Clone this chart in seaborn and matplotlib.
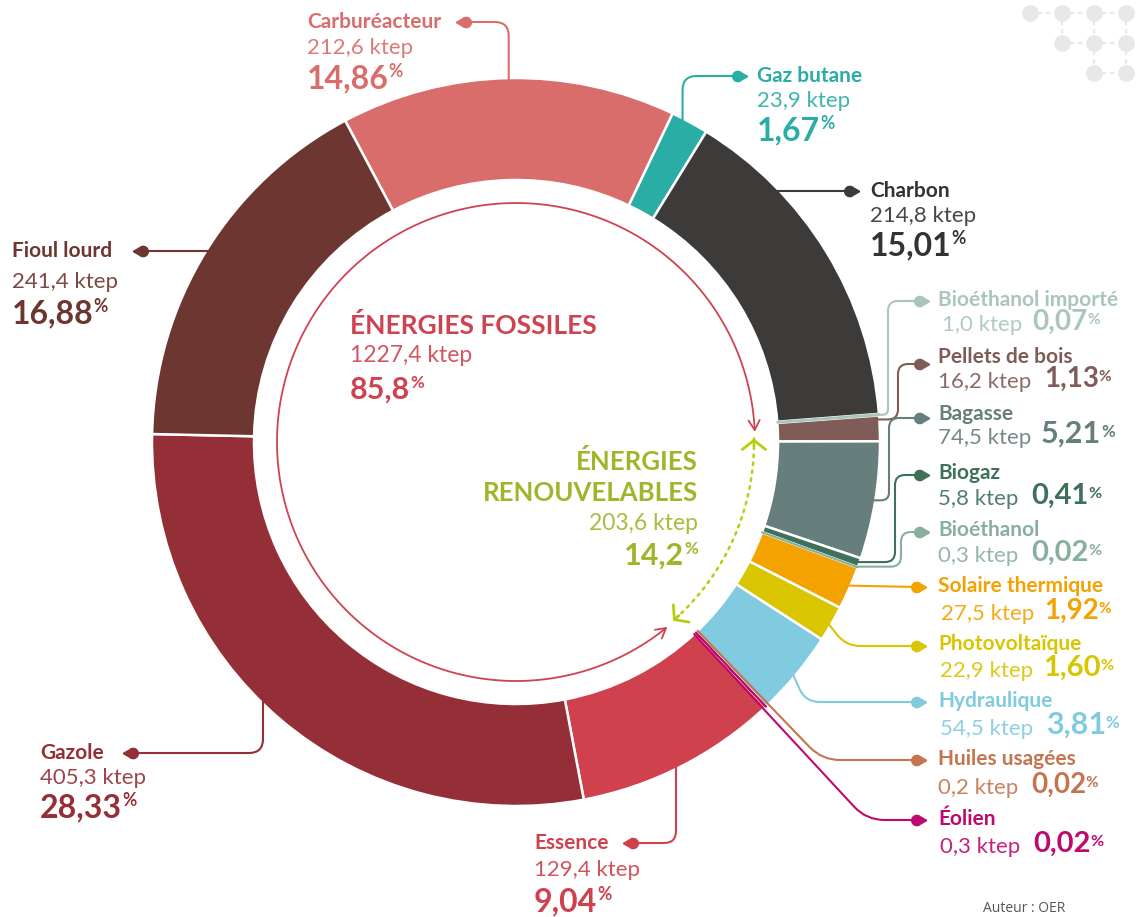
import numpy as np
import matplotlib
matplotlib.use("Agg")
import matplotlib.pyplot as plt
import seaborn as sns
from matplotlib.path import Path
from matplotlib.patches import PathPatch, FancyArrowPatch

# data (ktep), in clockwise order from the top
names = ["Carburéacteur", "Gaz butane", "Charbon", "Bioéthanol importé", "Pellets de bois",
         "Bagasse", "Biogaz", "Bioéthanol", "Solaire thermique", "Photovoltaïque",
         "Hydraulique", "Huiles usagées", "Éolien", "Essence", "Gazole", "Fioul lourd"]
ktep = [212.6, 23.9, 214.8, 1.0, 16.2, 74.5, 5.8, 0.3, 27.5, 22.9, 54.5, 0.2, 0.3,
        129.4, 405.3, 241.4]
shares = [14.86, 1.67, 15.01, 0.07, 1.13, 5.21, 0.41, 0.02, 1.92, 1.60, 3.81, 0.02, 0.02,
          9.04, 28.33, 16.88]
colors = ["#D96D6B", "#2AADA5", "#3C3B39", "#A9C6B9", "#7F5C58", "#667F7C", "#3F705A",
          "#89AF9E", "#F3A200", "#D9C500", "#80CBE0", "#C57450", "#BE0A6E", "#CE414D",
          "#952F37", "#6D3630"]
fossil_total, fossil_share = 1227.4, 85.8
renew_total, renew_share = 203.6, 14.2

RED = "#CF4350"
GREEN_TXT = "#9DB72A"
GREEN_ARR = "#B7CE10"

sns.set_theme(style="white")
plt.rcParams["font.family"] = ["Lato", "DejaVu Sans"]

W, H = 1139, 917
fig = plt.figure(figsize=(W / 100, H / 100), dpi=100)
ax = fig.add_axes([0, 0, 1, 1])

CX, CY, R, RING = 516, 442, 364, 102

wedges, _ = ax.pie(ktep, colors=colors, radius=R, center=(CX, CY), startangle=-118,
                   counterclock=True,
                   wedgeprops=dict(width=RING, edgecolor="white", linewidth=1.8))
for w, s, c in zip(wedges, shares, colors):
    if s < 0.1:  # tiny slices shown as thin lines
        w.set_edgecolor(c)
        w.set_linewidth(1.1)
        w.set_zorder(3)

ax.set_xlim(0, W)
ax.set_ylim(H, 0)
ax.set_aspect("equal")
ax.axis("off")

ang = {n: (w.theta1 + 90, w.theta2 + 90) for n, w in zip(names, wedges)}


def am(n, f=0.5):
    a1, a2 = ang[n]
    return a1 + f * (a2 - a1)


def ring_pt(a, r):
    a = np.radians(a)
    return (CX + r * np.sin(a), CY - r * np.cos(a))


def rounded(pts, rad=10):
    pts = [np.array(p, float) for p in pts]
    verts, codes = [pts[0]], [Path.MOVETO]
    for i in range(1, len(pts) - 1):
        p0, p1, p2 = pts[i - 1], pts[i], pts[i + 1]
        d1, d2 = p0 - p1, p2 - p1
        l1, l2 = np.hypot(*d1), np.hypot(*d2)
        rr = min(rad, l1 / 2, l2 / 2)
        verts += [p1 + d1 / l1 * rr, p1, p1 + d2 / l2 * rr]
        codes += [Path.LINETO, Path.CURVE3, Path.CURVE3]
    verts.append(pts[-1])
    codes.append(Path.LINETO)
    return Path(verts, codes)


def leaf(right=True):
    t = np.radians(np.linspace(45, 315, 16))
    v = [(1.0, 0.0)] + [(-0.2 + 0.62 * np.cos(a), 0.62 * np.sin(a)) for a in t] + [(1.0, 0.0)]
    if not right:
        v = [(-x, y) for x, y in v]
    return v


def leader(pts, color, rad=10, right=True):
    ax.add_patch(PathPatch(rounded(pts, rad), fill=False, ec=color, lw=1.5,
                           capstyle="round", zorder=4))
    ax.plot(*pts[-1], marker=leaf(right), ms=12, color=color, mec=color, zorder=5)


def fmt(v, d):
    return f"{v:.{d}f}".replace(".", ",")


def pct_after(artist, color, size, dy=0):
    # superscript percent sign glued to the number
    return ax.annotate("%", xy=(1, 1), xycoords=artist, xytext=(0, dy),
                       textcoords="offset points", ha="left", va="top",
                       fontsize=size * 0.55, fontweight="bold", color=color)


NAME_FS, VAL_FS = 15, 16


def fossil_label(n, x, y, dy1=26, dy2=57):
    i = names.index(n)
    c = "#333333" if n == "Charbon" else colors[i]
    ax.text(x, y, n, fontsize=NAME_FS, fontweight="bold", color=c, va="center")
    ax.text(x, y + dy1, fmt(ktep[i], 1) + " ktep", fontsize=VAL_FS, color=c,
            va="center", alpha=0.9)
    t = ax.text(x, y + dy2, fmt(shares[i], 2), fontsize=23, fontweight="bold", color=c,
                va="center")
    pct_after(t, c, 23, 1)


def renew_label(n, x, y, vx=None, gap=7, psize=21, dy=26):
    i = names.index(n)
    c = colors[i]
    ax.text(x, y, n, fontsize=NAME_FS, fontweight="bold", color=c, va="center")
    v = ax.text(vx if vx else x, y + dy, fmt(ktep[i], 1) + " ktep", fontsize=VAL_FS,
                color=c, va="center", alpha=0.9)
    p = ax.annotate(fmt(shares[i], 2), xy=(1, 0), xycoords=v, xytext=(gap, 0),
                    textcoords="offset points", ha="left", va="bottom",
                    fontsize=psize, fontweight="bold", color=c)
    pct_after(p, c, psize, -3)


# fossil labels and leaders
fossil_label("Carburéacteur", 307, 22)
p = ring_pt(am("Carburéacteur"), R - 30)
leader([p, (p[0], 22), (464, 22)], colors[0], rad=14, right=False)

fossil_label("Gaz butane", 757, 76, 25, 55)
p = ring_pt(am("Gaz butane"), R - 15)
leader([p, (p[0], 76), (739, 76)], colors[1], rad=14)

fossil_label("Charbon", 870, 191, 25, 55)
p = (CX + np.sqrt((R - 10) ** 2 - (CY - 191) ** 2), 191)
leader([p, (851, 191)], colors[2])

fossil_label("Fioul lourd", 12, 251, 31, 63)
p = (CX - np.sqrt((R - 12) ** 2 - (CY - 251) ** 2), 251)
leader([p, (141, 251)], colors[15], right=False)

fossil_label("Gazole", 40, 753, 25, 55)
p = (263, CY + np.sqrt((R - 15) ** 2 - (CX - 263) ** 2))
leader([p, (263, 753), (131, 753)], colors[14], rad=14, right=False)

fossil_label("Essence", 534, 843, 27, 59)
p = (676, CY + np.sqrt((R - 15) ** 2 - (676 - CX) ** 2))
leader([p, (676, 843), (631, 843)], colors[13], rad=12, right=False)

# renewable labels and leaders
renew_label("Bioéthanol importé", 938, 300, vx=942, psize=20, dy=25)
p = ring_pt(am("Bioéthanol importé"), R - 2)
leader([p, (888, p[1]), (888, 301), (921, 301)], colors[3])

renew_label("Pellets de bois", 938, 357, gap=9, psize=20, dy=25)
p = ring_pt(am("Pellets de bois", 0.15), R - 2)
leader([p, (898, p[1]), (898, 364), (921, 364)], colors[4])

renew_label("Bagasse", 938, 414, psize=22, dy=24)
p = ring_pt(am("Bagasse"), R - 2)
leader([p, (889, p[1]), (889, 418), (921, 418)], colors[5])

renew_label("Biogaz", 938, 473, gap=9)
p = ring_pt(am("Biogaz"), R - 2)
leader([p, (895, p[1]), (895, 475), (921, 475)], colors[6])

renew_label("Bioéthanol", 938, 530, gap=9)
p = ring_pt(am("Bioéthanol"), R - 2)
leader([p, (901, p[1]), (901, 532), (921, 532)], colors[7])

renew_label("Solaire thermique", 938, 586, vx=941, psize=20, dy=28)
p = ring_pt(am("Solaire thermique"), R - 6)
leader([p, (918, 587)], colors[8])

renew_label("Photovoltaïque", 938, 644, vx=940, dy=27)
p = ring_pt(am("Photovoltaïque"), R - 6)
leader([p, (p[0] + 20, 646), (918, 646)], colors[9], rad=14)

renew_label("Hydraulique", 938, 701, vx=940, gap=9, psize=22, dy=28)
p = ring_pt(am("Hydraulique"), R - 6)
leader([p, (p[0] + 14, 702), (918, 702)], colors[10], rad=14)

renew_label("Huiles usagées", 938, 759, gap=9, psize=20, dy=29)
a = am("Huiles usagées") - 0.5
p0 = ring_pt(a, R - RING)
p1 = ring_pt(a, (760 - CY) / -np.cos(np.radians(a)))
leader([p0, p1, (918, 760)], colors[11], rad=18)

renew_label("Éolien", 938, 819, vx=940, gap=9, dy=28)
a = am("Éolien") + 0.5
p0 = ring_pt(a, R - RING)
p1 = ring_pt(a, (820 - CY) / -np.cos(np.radians(a)))
leader([p0, p1, (918, 820)], colors[12], rad=18)

# inner arcs: fossil (red, solid) and renewable (green, dotted)
RA = 239
a_top, a_bot = ang["Bioéthanol importé"][0] + 2, ang["Éolien"][1] + 4
t = np.linspace(a_bot, a_top + 360, 200)
red_path = Path(np.column_stack([CX + RA * np.sin(np.radians(t)),
                                 CY - RA * np.cos(np.radians(t))]))
ax.add_patch(FancyArrowPatch(path=red_path, arrowstyle="<->,head_length=7,head_width=4",
                             color=RED, lw=1.3, mutation_scale=1, zorder=4))

g1, g2 = a_top + 1.6, a_bot - 2.0
t = np.linspace(g1, g2, 80)
gx, gy = CX + (RA - 1) * np.sin(np.radians(t)), CY - (RA - 1) * np.cos(np.radians(t))
ax.plot(gx, gy, color=GREEN_ARR, lw=1.8, ls=(0, (1, 2.2)), dash_capstyle="round", zorder=4)
for i0, i1 in [(3, 0), (-4, -1)]:
    ax.annotate("", xy=(gx[i1], gy[i1]), xytext=(gx[i0], gy[i0]),
                arrowprops=dict(arrowstyle="->,head_length=0.55,head_width=0.7",
                                color=GREEN_ARR, lw=2.0, shrinkA=0, shrinkB=0))

# centre texts
ax.text(350, 325, "ÉNERGIES FOSSILES", fontsize=19, fontweight="bold", color=RED, va="center")
ax.text(350, 356, fmt(fossil_total, 1) + " ktep", fontsize=16.5, color=RED, va="center",
        alpha=0.9)
t = ax.text(350, 390, fmt(fossil_share, 1), fontsize=22, fontweight="bold", color=RED,
            va="center")
pct_after(t, RED, 22, 1)

ax.text(698, 462, "ÉNERGIES", fontsize=18.5, fontweight="bold", color=GREEN_TXT,
        va="center", ha="right")
ax.text(698, 493, "RENOUVELABLES", fontsize=18.5, fontweight="bold", color=GREEN_TXT,
        va="center", ha="right")
ax.text(698, 524, fmt(renew_total, 1) + " ktep", fontsize=16.5, color=GREEN_TXT,
        va="center", ha="right", alpha=0.9)
t = ax.text(684, 556, fmt(renew_share, 1), fontsize=22, fontweight="bold",
            color=GREEN_TXT, va="center", ha="right")
pct_after(t, GREEN_TXT, 22, 1)

# decorative dot pattern, top right
for row in range(3):
    for col in range(4):
        x, y = 1030 + 32 * col, 13 + 30 * row
        if col >= row:
            ax.plot(x, y, "o", ms=12, color="#E8E8E8", mec="none", zorder=0)
            if col < 3:
                ax.plot([x + 8, x + 24], [y, y], color="#E8E8E8", lw=1.5, ls=(0, (2, 2)), zorder=0)
            if row < 2 and col > row:
                ax.plot([x, x], [y + 8, y + 22], color="#E8E8E8", lw=1.5, ls=(0, (2, 2)), zorder=0)

ax.text(1065, 908, "Auteur : OER", fontsize=10, color="#555555", ha="right", va="center",
        family=["Open Sans", "DejaVu Sans"])

fig.savefig("out.png", dpi=100, facecolor="white")
